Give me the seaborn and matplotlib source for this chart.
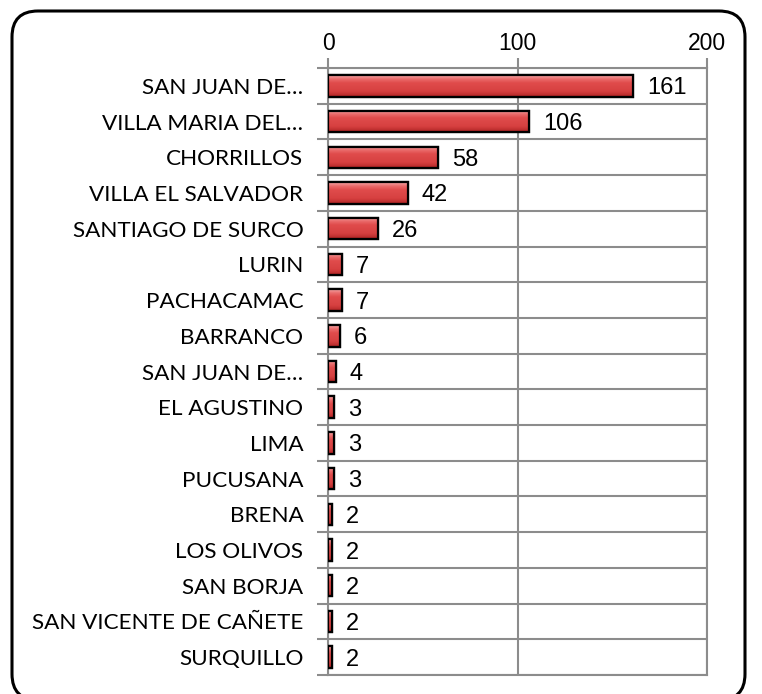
import numpy as np
import pandas as pd
import matplotlib
matplotlib.use("Agg")
import matplotlib.pyplot as plt
import seaborn as sns
from matplotlib.patches import FancyBboxPatch, Rectangle
from matplotlib.transforms import IdentityTransform
from matplotlib.colors import LinearSegmentedColormap

districts = [
    "SAN JUAN DE…", "VILLA MARIA DEL…", "CHORRILLOS", "VILLA EL SALVADOR",
    "SANTIAGO DE SURCO", "LURIN", "PACHACAMAC", "BARRANCO", "SAN JUAN DE…",
    "EL AGUSTINO", "LIMA", "PUCUSANA", "BRENA", "LOS OLIVOS", "SAN BORJA",
    "SAN VICENTE DE CAÑETE", "SURQUILLO",
]
counts = [161, 106, 58, 42, 26, 7, 7, 6, 4, 3, 3, 3, 2, 2, 2, 2, 2]
x_ticks = [0, 100, 200]

sns.set_theme(style="white")
plt.rcParams["font.family"] = ["Liberation Sans", "DejaVu Sans"]

df = pd.DataFrame({"row": range(len(districts)), "count": counts})

fig = plt.figure(figsize=(7.62, 6.94), dpi=100)
ax = fig.add_axes([328.3 / 762, 1 - 675 / 694, (707.3 - 328.3) / 762, (675 - 68) / 694])

grid_col = "#8c8c8c"
sns.barplot(data=df, x="count", y="row", orient="h", width=0.6,
            color="#dc4646", edgecolor="black", linewidth=1.6,
            ax=ax, zorder=3)

# bevelled red shading inside each bar
shade = LinearSegmentedColormap.from_list(
    "bevel", [(0.0, "#f6a8a8"), (0.18, "#ea6a6a"), (0.35, "#e04c4c"),
              (0.75, "#d64040"), (0.9, "#c03030"), (1.0, "#9a1a1a")])
grad = np.linspace(0, 1, 64).reshape(-1, 1)
bars = list(ax.containers[0])
for bar in bars:
    x0, y0 = bar.get_x(), bar.get_y()
    w, h = bar.get_width(), bar.get_height()
    img = ax.imshow(grad, cmap=shade, aspect="auto", origin="upper",
                    extent=(x0, x0 + w, y0 + h, y0), zorder=3.5,
                    interpolation="bilinear")
    img.set_clip_path(bar)
    ax.add_patch(Rectangle((x0, y0), w, h, fill=False, edgecolor="black",
                           linewidth=1.6, zorder=4))

ax.set_xlim(0, 200)
ax.set_ylim(len(districts) - 0.5, -0.5)
ax.set_xticks(x_ticks)
ax.set_xticklabels([str(t) for t in x_ticks])
ax.xaxis.tick_top()
ax.set_yticks(range(len(districts)))
ax.set_yticklabels(districts)
ax.set_yticks(np.arange(-0.5, len(districts), 1.0), minor=True)
ax.set_xlabel("")
ax.set_ylabel("")

ax.grid(False)
ax.grid(True, axis="x", which="major", color=grid_col, linewidth=1.5, zorder=0)
ax.grid(True, axis="y", which="minor", color=grid_col, linewidth=1.5, zorder=0)
ax.set_axisbelow(True)

ax.tick_params(axis="x", which="major", top=True, bottom=False, length=7,
               width=1.5, color=grid_col, direction="out", labelsize=16.5,
               pad=2, labelcolor="black")
ax.tick_params(axis="y", which="major", left=False, length=0, pad=18,
               labelsize=16.2, labelcolor="black")
ax.tick_params(axis="y", which="minor", left=True, length=8, width=1.5,
               color=grid_col, direction="out")
for lbl in ax.get_yticklabels():
    lbl.set_fontfamily(["Lato", "DejaVu Sans"])

for side in ["left", "right", "top", "bottom"]:
    ax.spines[side].set_visible(True)
    ax.spines[side].set_color(grid_col)
    ax.spines[side].set_linewidth(1.5)

texts = ax.bar_label(ax.containers[0], labels=[str(v) for v in counts],
                     padding=10, fontsize=17, color="black")
for t in texts:
    t.set_va("center_baseline")

# rounded frame around the whole chart
frame = FancyBboxPatch((12, -6), 733, 689,
                       boxstyle="round,pad=0,rounding_size=26",
                       transform=IdentityTransform(), fill=False,
                       edgecolor="black", linewidth=2.2)
fig.add_artist(frame)

fig.savefig("out.png", dpi=100, facecolor="white")
